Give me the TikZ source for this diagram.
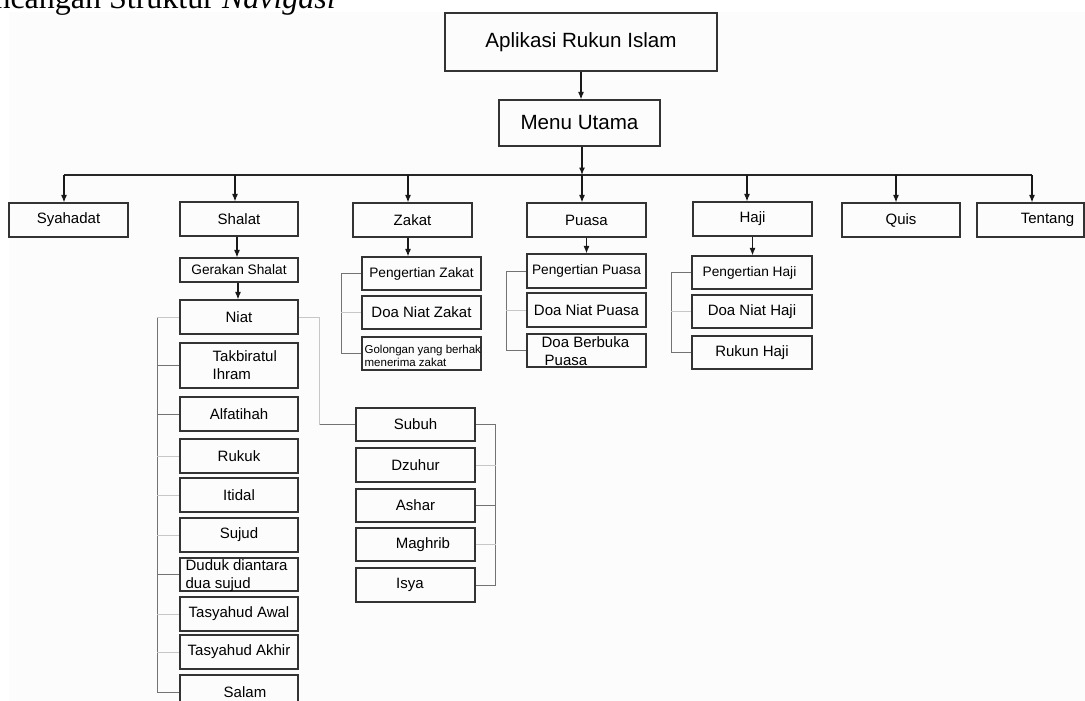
\documentclass[tikz,border=0pt]{standalone}
\usepackage{fontspec}
\setmainfont{Liberation Sans}
\newfontfamily\titleserif{Liberation Serif}
\usetikzlibrary{arrows.meta}
\newcommand\fsz[2]{\fontsize{#1}{#2}\selectfont}
\begin{document}
\begin{tikzpicture}[x=1pt,y=-1pt,
  box/.style={draw=black!80, line width=1.1pt, inner sep=0pt, font=\fsz{15}{18}},
  tb/.style={box, minimum width=119pt, minimum height=34pt},
  sb/.style={box, minimum width=118pt, minimum height=34pt},
  zb/.style={box, minimum width=119pt, minimum height=33pt},
  txt/.style={inner sep=0pt, align=left, anchor=west, font=\fsz{15}{18}},
  arr/.style={-{Latex[length=7.5pt,width=6pt]}, line width=1.2pt, black!90},
  ln/.style={line width=1.2pt, black!85},
  gline/.style={line width=1pt, black!55},
  lline/.style={line width=0.9pt, black!22}]
\useasboundingbox (0,0) rectangle (1085,701);
\fill[black!1] (9,12) rectangle (1085,701);

\node[font=\titleserif\fsz{32}{36}, anchor=base east, inner sep=0pt] (title) at (336,9) {Perancangan Struktur \textit{Navigasi}};

% main
\node[box, minimum width=272pt, minimum height=58pt, font=\fsz{20.6}{24}] (app) at (581,42) {Aplikasi Rukun Islam};
\node[box, minimum width=161pt, minimum height=46pt, font=\fsz{20.6}{24}] (menu) at (579.5,123) {Menu Utama};

% top row
\node[tb] (syah) at (68.5,220) {Syahadat};
\node[tb, minimum width=118pt] (shalat) at (239,219) {Shalat};
\node[tb] (zakat) at (412.5,220) {Zakat};
\node[tb] (puasa) at (586.5,220) {Puasa};
\node[tb] (haji) at (752.5,219) {Haji};
\node[tb, minimum width=118pt] (quis) at (901,220) {Quis};
\node[tb, minimum width=107pt] (tentang) at (1030.5,220) {\hspace*{34pt}Tentang};

% shalat column
\node[sb, minimum height=24pt, font=\fsz{13.7}{16}] (gerakan) at (239,270) {Gerakan Shalat};
\node[sb] (niat) at (239,317) {Niat};
\node[sb, minimum height=45pt] (takbir) at (239,365.5) {};
\node[txt] (takbirT) at ([xshift=33pt]takbir.west) {Takbiratul\\Ihram};
\node[sb] (alfa) at (239,414) {Alfatihah};
\node[sb] (rukuk) at (239,456) {Rukuk};
\node[sb] (itidal) at (239,495) {Itidal};
\node[sb] (sujud) at (239,535) {Sujud};
\node[sb, minimum height=33pt] (duduk) at (239,574.5) {};
\node[txt] (dudukT) at ([xshift=6pt,yshift=-1.5pt]duduk.west) {Duduk diantara\\dua sujud};
\node[sb] (tawal) at (239,614) {Tasyahud Awal};
\node[sb] (takhir) at (239,652) {Tasyahud Akhir};
\node[sb] (salam) at (239,692) {\hspace*{12pt}Salam};

% sholat times
\node[sb, minimum width=119pt, minimum height=33pt] (subuh) at (415.5,424.5) {Subuh};
\node[sb, minimum width=119pt] (dzuhur) at (415.5,465) {Dzuhur};
\node[sb, minimum width=119pt, minimum height=33pt] (ashar) at (415.5,505.5) {Ashar};
\node[sb, minimum width=119pt, minimum height=33pt] (maghrib) at (415.5,544.5) {\hspace*{15pt}Maghrib};
\node[sb, minimum width=119pt] (isya) at (415.5,585) {Isya\hspace*{11pt}};

% zakat
\node[zb, font=\fsz{13.7}{16}] (pzakat) at (421.5,273.5) {Pengertian Zakat};
\node[zb] (dnzakat) at (421.5,312.5) {Doa Niat Zakat};
\node[zb] (golongan) at (421.5,353.5) {};
\node[txt, font=\fsz{11.5}{13}] (golonganT) at ([xshift=3pt,yshift=-2pt]golongan.west) {Golongan yang berhak\\menerima zakat};

% puasa
\node[zb, minimum height=34pt, font=\fsz{13.7}{16}] (ppuasa) at (586.5,271) {Pengertian Puasa};
\node[zb, minimum height=34pt] (dnpuasa) at (586.5,310) {Doa Niat Puasa};
\node[zb] (dbpuasa) at (586.5,350.5) {};
\node[txt] (dbpuasaT) at ([xshift=15pt,yshift=-0.5pt]dbpuasa.west) {Doa Berbuka\\\hspace*{3pt}Puasa};

% haji
\node[zb, minimum width=120pt, font=\fsz{13.7}{16}] (phaji) at (752,272.5) {Pengertian Haji\hspace*{5pt}};
\node[zb, minimum width=120pt] (dnhaji) at (752,311.5) {Doa Niat Haji};
\node[zb, minimum width=120pt] (rhaji) at (752,352.5) {Rukun Haji};

% main connectors
\draw[arr] (app.south) -- (app.south |- menu.north);
\coordinate (hl) at (582,175);
\draw[arr] (menu.south -| hl) -- (hl);
\draw[ln] ([xshift=-4.5pt]syah.north |- hl) -- ([xshift=1.5pt]tentang.north |- hl);
\foreach \n/\d in {syah/-4.5,shalat/-4,zakat/-4.5,puasa/-4.5,haji/-5.5,quis/-5,tentang/1.5}
  \draw[arr] ([xshift=\d pt]\n.north |- hl) -- ([xshift=\d pt]\n.north);

\draw[arr] ([xshift=-2pt]shalat.south) -- ([xshift=-2pt]shalat.south |- gerakan.north);
\draw[arr] ([xshift=-1pt]gerakan.south) -- ([xshift=-1pt]gerakan.south |- niat.north);
\draw[arr] ([xshift=-4.5pt]zakat.south) -- ([xshift=-4.5pt]zakat.south |- pzakat.north);
\draw[arr] (puasa.south) -- (puasa.south |- ppuasa.north);
\draw[arr] (haji.south) -- (haji.south |- phaji.north);

% shalat bracket
\coordinate (sl) at ([xshift=-22pt]niat.west);
\draw[gline] (sl) -- (sl |- salam.west);
\foreach \n in {niat,rukuk,itidal,sujud,tawal,takhir} \draw[lline] (sl |- \n.west) -- (\n.west);
\foreach \n in {takbir,alfa,duduk,salam} \draw[gline] (sl |- \n.west) -- (\n.west);

% niat to subuh
\coordinate (nb) at ([xshift=21pt]niat.east);
\draw[lline] (niat.east) -- (nb) -- (nb |- subuh.west);
\draw[gline] (nb |- subuh.west) -- (subuh.west);

% subuh bracket
\coordinate (sr) at ([xshift=20pt]subuh.east);
\draw[gline] (sr) -- (sr |- isya.east);
\foreach \n in {subuh,ashar,isya} \draw[gline] (\n.east) -- (sr |- \n.east);
\foreach \n in {dzuhur,maghrib} \draw[lline] (\n.east) -- (sr |- \n.east);

% zakat bracket
\coordinate (zl) at ([xshift=-20pt]pzakat.west);
\draw[gline] (zl) -- (zl |- golongan.west);
\foreach \n in {pzakat,golongan} \draw[gline] (zl |- \n.west) -- (\n.west);
\draw[lline] (zl |- dnzakat.west) -- (dnzakat.west);

% puasa bracket
\coordinate (pl) at ([xshift=-20pt]ppuasa.west);
\draw[gline] (pl) -- (pl |- dbpuasa.west);
\foreach \n in {ppuasa,dbpuasa} \draw[gline] (pl |- \n.west) -- (\n.west);
\draw[lline] (pl |- dnpuasa.west) -- (dnpuasa.west);

% haji bracket
\coordinate (jl) at ([xshift=-20pt]phaji.west);
\draw[gline] (jl) -- (jl |- rhaji.west);
\foreach \n in {phaji,rhaji} \draw[gline] (jl |- \n.west) -- (\n.west);
\draw[lline] (jl |- dnhaji.west) -- (dnhaji.west);
\end{tikzpicture}
\end{document}
